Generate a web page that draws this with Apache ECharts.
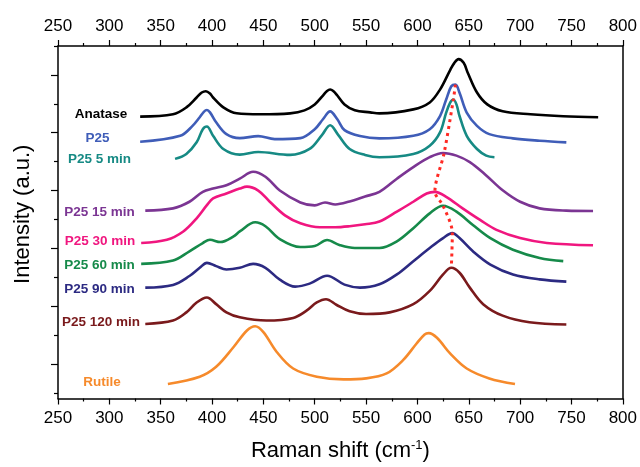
<!DOCTYPE html>
<html>
<head>
<meta charset="utf-8">
<script src="https://cdn.jsdelivr.net/npm/echarts@6/dist/echarts.min.js"></script>
<style>html,body{margin:0;padding:0;background:#fff}#c{width:640px;height:467px}</style>
</head>
<body>
<div id="c"></div>
<script>
// x tick labels (cm-1)
const xTicks = [250,300,350,400,450,500,550,600,650,700,750,800];
// y axis tick values (arbitrary units, no labels shown)
const yMajorTicks = [35.0, 93.4, 151.7, 210.1, 268.5, 326.8];
const yMinorTicks = [5.8, 64.2, 122.6, 180.9, 239.3, 297.6, 356];

const seriesNames = ['Anatase','P25','P25 5 min','P25 15 min','P25 30 min','P25 60 min','P25 90 min','P25 120 min','Rutile'];

const anatase = [[330,284.7],[362,287],[375,294],[385,304],[390,309],[394,310.3],[398,308],[401,304],[411,294],[424,288],[447,287],[476,288],[490,291],[500,297],[508,306],[512,310.5],[515,312],[518,310.5],[522,306],[529,297],[539,291],[554,289],[563,288],[596,292],[612,299],[622,312],[632,332],[636,339],[640,342.7],[645,339],[649,329],[658,309],[668,297],[683,290],[710,287],[742,285],[776,284]];
const p25 = [[330,259.3],[369,265.3],[381,275.3],[388,284],[392,289.5],[395,291.3],[398,289],[404,279],[414,267],[427,263],[445,265],[461,262],[486,263],[500,272],[508,282],[515,290],[522,282],[529,271],[544,265],[563,262.7],[596,265.3],[612,272],[622,285.3],[628,302],[633,315.3],[637,317],[641,308.7],[648,288.7],[658,275.3],[670,267],[693,262.7],[719,260.3],[745,258.7]];
const p25_5 = [[364,242],[375,247],[385,258.7],[391,272],[395,274.7],[401,265.3],[411,252],[427,246.3],[445,249],[476,246],[495,252],[507,266],[515,276],[523,266],[534,252],[549,246],[563,243.7],[596,247],[612,255.3],[622,268.7],[628,288.7],[632,299],[635,302],[638,297],[641,285.3],[648,265.3],[658,252],[667,245.3],[675,243.7]];
const p25_15 = [[335,189.7],[362,192],[378,198.7],[391,208.7],[401,212],[414,215.3],[427,222],[440,229],[452,224],[466,210],[486,198],[500,195],[510,198],[520,196],[534,199],[549,204],[563,208.7],[580,222],[596,233.7],[612,243.7],[625,248],[638,245.3],[651,238.7],[667,225.3],[683,210.3],[700,198.7],[719,192],[745,189.7],[771,189.3]];
const p25_30 = [[331,157],[356,160.3],[372,168.7],[385,182],[395,195.3],[401,202],[414,207],[427,212],[434,214],[445,210],[456,199],[471,185],[486,177],[505,173],[520,173],[534,174],[549,176],[563,178.7],[580,188.7],[596,198.7],[609,207],[617,208.7],[628,203.7],[644,192],[661,180.3],[677,170.3],[700,162],[726,157],[771,154.7]];
const p25_60 = [[331,136],[362,139.3],[378,148.7],[391,157],[398,160.3],[408,158],[421,163.7],[427,168.7],[442,178],[452,174],[466,161],[486,153],[500,154],[512,160],[524,155],[539,152],[552,152],[563,152],[580,158.7],[596,172],[612,187],[625,194.7],[638,188.7],[654,175.3],[671,162],[693,150.3],[719,142],[742,138.7]];
const p25_90 = [[335,112],[362,114.7],[378,123.7],[388,132],[395,137],[404,133.7],[414,130.3],[427,132],[440,136],[452,132],[466,120],[481,113],[495,116],[512,124],[529,115],[544,112],[563,115.3],[580,125.3],[596,138.7],[612,152],[625,162],[634,167],[641,162],[654,148.7],[671,135.3],[693,125.3],[719,120.3],[745,118]];
const p25_120 = [[335,75.3],[362,78.7],[375,87],[385,97],[395,102],[404,95.3],[414,87],[427,82],[453,78.7],[479,81.3],[492,88.7],[502,97],[511,100.3],[521,94.7],[534,88],[550,85.3],[573,87],[596,95.3],[612,108.7],[625,125.3],[633,132],[641,127],[651,112],[664,95.3],[683,83.7],[709,77],[745,74.7]];
const rutile = [[357,14.7],[388,22],[404,32],[421,52],[434,68.7],[442,73],[450,67],[463,47],[479,30.3],[502,22],[528,19.3],[550,20.3],[570,25.3],[586,38.7],[599,55.3],[607,64.7],[611,66],[619,61.3],[632,45.3],[648,30.3],[670,20.3],[695,14.7]];
// peak positions of the ~640 cm-1 band (red dotted guide)
const peakShift = [[637,317],[635,302],[626,248],[617,208.7],[625,194.7],[634,167],[633,132]];

const seriesData = [anatase,p25,p25_5,p25_15,p25_30,p25_60,p25_90,p25_120,rutile];
const colors = ['#000000','#3f5db8','#168a84','#7b3593','#f0167f','#168a4a','#2c2a82','#7a1a1c','#f68a2b'];
// label anchors (pixel centres) for the text labels at the left
const labelPos = [[101,114],[97.5,138.5],[99.5,159.5],[99.5,212.5],[100,241],[99.5,265],[99.5,289],[101,322],[102,382.5]];

const FONT = 'Liberation Sans, Arial, sans-serif';
const chart = echarts.init(document.getElementById('c'));

const baseX = {
  type:'value', min:250, max:800, interval:50,
  axisLine:{show:true, onZero:false, lineStyle:{color:'#000', width:1.5}},
  axisTick:{show:true, inside:false, length:6, lineStyle:{color:'#000', width:1.2}},
  minorTick:{show:true, splitNumber:2, length:3, lineStyle:{color:'#000', width:1.2}},
  splitLine:{show:false},
  axisLabel:{fontSize:17, color:'#000', fontFamily:FONT, margin:11, showMinLabel:true, showMaxLabel:true}
};

const series = seriesData.map((d,i)=>({
  name: seriesNames[i], type:'line', data:d, smooth:0.35, symbol:'none',
  lineStyle:{color:colors[i], width:2.6}, z:2
}));
series.push({
  name:'peak', type:'line', data:peakShift, smooth:0.3, symbol:'none',
  lineStyle:{color:'#ff2a24', width:3, type:[3,4]}, z:5
});

chart.setOption({
  animation:false,
  backgroundColor:'#fff',
  grid:{left:58, top:46, width:565, height:356, show:false},
  xAxis:[
    Object.assign({}, baseX, {position:'bottom',
      name:'Raman shift (cm{sup|-1})', nameLocation:'middle', nameGap:40,
      nameTextStyle:{fontSize:22, color:'#000', fontFamily:FONT,
        rich:{sup:{fontSize:13, color:'#000', fontFamily:FONT, padding:[0,0,12,0]}}}}),
    Object.assign({}, baseX, {position:'top'})
  ],
  yAxis:[
    {type:'value', min:0, max:356, position:'left',
     axisLine:{show:true, onZero:false, lineStyle:{color:'#000', width:1.5}},
     axisTick:{show:true, length:7, customValues:yMajorTicks, lineStyle:{color:'#000', width:1.2}},
     axisLabel:{show:false, customValues:yMajorTicks},
     splitLine:{show:false},
     name:'Intensity (a.u.)', nameLocation:'middle', nameGap:24,
     nameTextStyle:{fontSize:22, color:'#000', fontFamily:FONT, padding:[0,0,0,16]}},
    {type:'value', min:0, max:356, position:'left',
     axisLine:{show:false},
     axisTick:{show:true, length:4, customValues:yMinorTicks, lineStyle:{color:'#000', width:1.2}},
     axisLabel:{show:false, customValues:yMinorTicks},
     splitLine:{show:false}},
    {type:'value', min:0, max:356, position:'right',
     axisLine:{show:true, onZero:false, lineStyle:{color:'#000', width:1.5}},
     axisTick:{show:false}, axisLabel:{show:false}, splitLine:{show:false}}
  ],
  series: series,
  graphic: seriesNames.map((n,i)=>({
    type:'text', x:labelPos[i][0], y:labelPos[i][1], z:10,
    style:{text:n, fill:colors[i], font:'bold 13.5px ' + FONT, textAlign:'center', textVerticalAlign:'middle'}
  }))
});
</script>
</body>
</html>
